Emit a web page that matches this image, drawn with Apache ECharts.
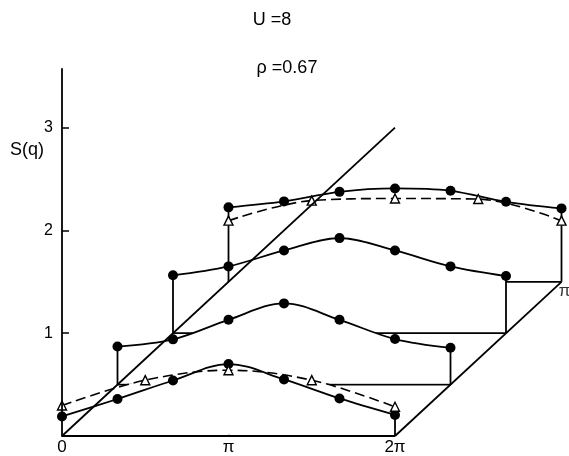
<!DOCTYPE html>
<html>
<head>
<meta charset="utf-8">
<script src="https://cdn.jsdelivr.net/npm/echarts@6/dist/echarts.min.js"></script>
<style>html,body{margin:0;padding:0;background:#fff;}#c{width:569px;height:456px;}</style>
</head>
<body>
<div id="c"></div>
<script>
// ---- data (q in units of pi) ----
const qxTickLabels = ['0', 'π', '2π'];
const qxTickValues = [0, 1, 2];
const sTickValues = [1, 2, 3];
const qxDots = [0, 1/3, 2/3, 1, 4/3, 5/3, 2];
const qxTris = [0, 0.5, 1, 1.5, 2];
const rowDepth = [0, 1/3, 2/3, 1];          // q_y of each row (units of pi)
const row0Dots = [0.19, 0.36, 0.54, 0.70, 0.55, 0.365, 0.205];
const row1Dots = [0.37, 0.44, 0.63, 0.79, 0.63, 0.443, 0.358];
const row2Dots = [0.563, 0.65, 0.805, 0.925, 0.805, 0.65, 0.556];
const row3Dots = [0.724, 0.782, 0.875, 0.908, 0.885, 0.778, 0.714];
const row0Tris = [0.297, 0.543, 0.64, 0.543, 0.284];
const row3Tris = [0.595, 0.79, 0.81, 0.805, 0.595];
const diagonalDepth = 2;

// oblique projection of (qx, qy, S) onto the plane
const LIFT = 1.5; // S units per pi of depth
function proj(qx, qy, s) { return [qx + qy, s + LIFT * qy]; }

const FONT = 'Liberation Sans, Arial, sans-serif';
const SM = 0.35;
const LW = 1.8;
const black = '#000';
const series = [];
const rowsDots = [row0Dots, row1Dots, row2Dots, row3Dots];
const rowsTris = { 0: row0Tris, 3: row3Tris };

function seg(a, b, z) {
  series.push({ type: 'line', data: [a, b], symbol: 'none', silent: true, z: z,
    lineStyle: { color: black, width: LW }, animation: false });
}

rowDepth.forEach((d, r) => {
  const base = LIFT * d;
  const dots = qxDots.map((q, i) => proj(q, d, rowsDots[r][i]));
  // floor line of the row
  seg(proj(0, d, 0), proj(2, d, 0), 1);
  // white curtain hiding lines behind
  series.push({ type: 'line', data: dots, smooth: SM, symbol: 'none', silent: true, z: 2,
    lineStyle: { width: 0, opacity: 0 }, areaStyle: { color: '#fff', opacity: 1, origin: base + 0.014 }, animation: false });
  series.push({ type: 'line', data: dots, smooth: SM, symbol: 'circle', symbolSize: 10, showAllSymbol: true, z: 4,
    itemStyle: { color: black }, lineStyle: { color: black, width: LW }, animation: false });
  if (rowsTris[r]) {
    const tris = qxTris.map((q, i) => proj(q, d, rowsTris[r][i]));
    series.push({ type: 'line', data: tris, smooth: SM, symbol: 'none', silent: true, z: 2,
      lineStyle: { width: 0, opacity: 0 }, areaStyle: { color: '#fff', opacity: 1, origin: base + 0.014 }, animation: false });
    series.push({ type: 'line', data: tris, smooth: SM, symbol: 'triangle', symbolSize: 9, showAllSymbol: true, z: 5,
      itemStyle: { color: '#fff', borderColor: black, borderWidth: 1.4 },
      lineStyle: { color: black, width: 1.6, type: [10, 5] }, animation: false });
  }
  // drop lines at both ends
  if (r > 0) seg(proj(0, d, rowsDots[r][0]), proj(0, d, 0), 3);
  seg(proj(2, d, rowsDots[r][6]), proj(2, d, 0), 3);
});
// depth edges
seg(proj(0, 0, 0), proj(0, diagonalDepth, 0), 6);
seg(proj(2, 0, 0), proj(2, rowDepth[3], 0), 3);
// label of depth axis
series.push({ type: 'scatter', data: [proj(2, rowDepth[3], 0)], symbolSize: 0, silent: true, z: 6,
  label: { show: true, formatter: 'π', position: 'bottom', distance: 1, offset: [3, 0], color: black, fontSize: 17, fontFamily: FONT } });

const chart = echarts.init(document.getElementById('c'), null, { renderer: 'canvas' });
chart.setOption({
  animation: false,
  backgroundColor: '#fff',
  grid: { left: 62, top: 69, width: 499.5, height: 369.5 },
  xAxis: {
    type: 'value', min: 0, max: 3,
    axisLine: { show: false },
    splitLine: { show: false },
    axisTick: { show: true, inside: true, length: 6, customValues: [1], lineStyle: { color: black, width: 1.5 } },
    axisLabel: { customValues: qxTickValues, formatter: v => qxTickLabels[qxTickValues.indexOf(v)], margin: 3,
      color: black, fontSize: 17, fontFamily: FONT }
  },
  yAxis: {
    type: 'value', min: 0, max: 3.57, z: 10,
    axisLine: { show: true, lineStyle: { color: black, width: LW } },
    splitLine: { show: false },
    axisTick: { show: true, inside: true, length: 7, customValues: sTickValues, lineStyle: { color: black, width: 1.5 } },
    axisLabel: { customValues: sTickValues, margin: 9, color: black, fontSize: 16, fontFamily: FONT }
  },
  graphic: [
    { type: 'text', left: 10, top: 141, style: { text: 'S(q)', fontSize: 18, fontFamily: FONT, fill: black } },
    { type: 'text', x: 272, y: 20, style: { text: 'U =8', fontSize: 18, fontFamily: FONT, fill: black, textAlign: 'center', textVerticalAlign: 'middle' } },
    { type: 'text', x: 287, y: 68, style: { text: 'ρ =0.67', fontSize: 18, fontFamily: FONT, fill: black, textAlign: 'center', textVerticalAlign: 'middle' } }
  ],
  series: series
});
</script>
</body>
</html>
